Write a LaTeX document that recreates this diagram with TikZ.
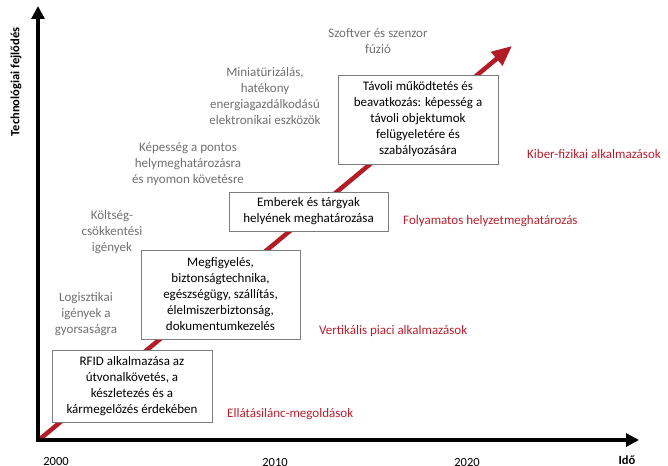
\documentclass[tikz,border=0pt]{standalone}
\usepackage{fontspec}
\setmainfont{Carlito}
\usetikzlibrary{arrows.meta}
\definecolor{txtgray}{RGB}{112,112,112}
\definecolor{lblred}{RGB}{185,30,45}
\definecolor{arrred}{RGB}{178,28,36}
\definecolor{boxgray}{RGB}{125,125,125}
\tikzset{
  every node/.style={font=\fontsize{13}{16}\selectfont, inner sep=0pt},
  infobox/.style={draw=boxgray, line width=0.8pt, fill=white, align=center, text=black},
  graytext/.style={text=txtgray, align=center},
  redlabel/.style={text=lblred, anchor=west},
  axis/.style={line width=4.5pt, -{Triangle[length=13pt,width=13pt]}},
  yearlbl/.style={font=\fontsize{12.5}{15}\selectfont, text=black},
}
\begin{document}
\begin{tikzpicture}[x=1pt,y=-1pt]
\useasboundingbox (0,0) rectangle (668,465);
% axes
\coordinate (O) at (38,440);
\coordinate (Ytip) at (38,6);
\coordinate (Xtip) at (639,440);
\coordinate (Rs) at (40,439);
\coordinate (Rt) at (512,46);
\draw[arrred, line width=4.5pt, -{Triangle[length=20pt,width=17pt]}] (Rs) -- (Rt);
\draw[axis] ([yshift=-2.2pt]O) -- (Ytip);
\draw[axis] ([xshift=-2.2pt]O) -- (Xtip);
% boxes
\node[infobox, minimum width=160pt, minimum height=72pt] (b1) at (132,386) {RFID alkalmazása az\\útvonalkövetés, a\\készletezés és a\\kármegelőzés érdekében};
\node[infobox, minimum width=159pt, minimum height=89pt] (b2) at (220.5,294.5) {Megfigyelés,\\biztonságtechnika,\\egészségügy, szállítás,\\élelmiszerbiztonság,\\dokumentumkezelés};
\node[infobox, minimum width=159pt, minimum height=39pt] (b3) at (308.5,211.5) {Emberek és tárgyak\\helyének meghatározása};
\node[infobox, minimum width=160pt, minimum height=89pt] (b4) at (418,119.5) {Távoli működtetés és\\beavatkozás: képesség a\\távoli objektumok\\felügyeletére és\\szabályozására};
% gray texts
\node[graytext] (g1) at (86,314) {Logisztikai\\igények a\\gyorsaságra};
\node[graytext] (g2) at (112,232) {Költség-\\csökkentési\\igények};
\node[graytext] (g3) at (188,164) {Képesség a pontos\\helymeghatározásra\\és nyomon követésre};
\node[graytext] (g4) at (265,96) {Miniatürizálás,\\hatékony\\energiagazdálkodású\\elektronikai eszközök};
\node[graytext] (g5) at (378,41) {Szoftver és szenzor\\fúzió};
% red labels
\node[redlabel] (r1) at (527,154) {Kiber-fizikai alkalmazások};
\node[redlabel] (r2) at (403,221) {Folyamatos helyzetmeghatározás};
\node[redlabel] (r3) at (319,331) {Vertikális piaci alkalmazások};
\node[redlabel] (r4) at (227,414) {Ellátásilánc-megoldások};
% axis labels
\node[yearlbl] (y0) at (56,461) {2000};
\node[yearlbl] (y1) at (275,462) {2010};
\node[yearlbl] (y2) at (467,462) {2020};
\node[font=\fontsize{12.5}{15}\selectfont\bfseries] (ido) at (627,460) {Idő};
\node[font=\fontsize{12.5}{15}\selectfont\bfseries, rotate=90] (tech) at (16,82) {Technológiai fejlődés};
\end{tikzpicture}
\end{document}
